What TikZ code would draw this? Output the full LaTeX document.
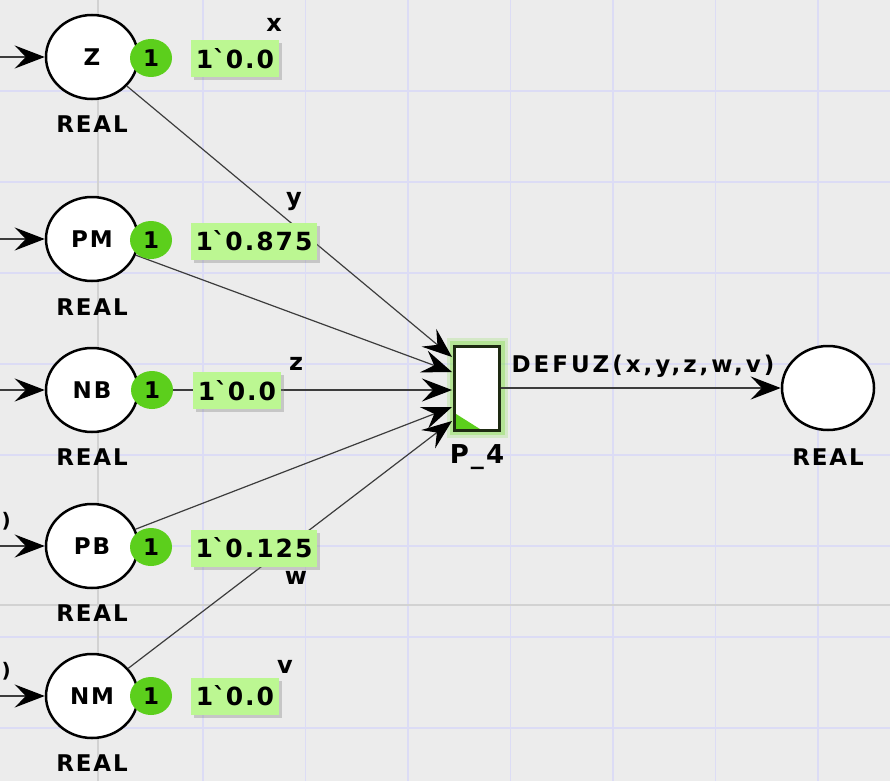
\documentclass[tikz,border=0pt]{standalone}
\usepackage{fontspec}
\setmainfont{DejaVu Sans}[LetterSpace=8]
\usetikzlibrary{shapes.geometric,arrows.meta,shadows}
\definecolor{canvas}{HTML}{ECECEC}
\definecolor{gridblue}{HTML}{DCDCF5}
\definecolor{gridgray}{HTML}{D2D2D2}
\definecolor{tokengreen}{HTML}{5CCF1C}
\definecolor{markgreen}{HTML}{BCF792}
\definecolor{glowgreen}{HTML}{8EE05A}
\definecolor{transedge}{HTML}{1E2A12}
\definecolor{arcgray}{HTML}{3C3C3C}
\newcommand{\fsz}[1]{\fontsize{#1}{#1}\selectfont\bfseries}
\newcommand{\mk}[1]{1\textasciigrave #1}
\tikzset{
	place/.style    = {draw, ellipse, line width = 2.5pt, fill = white,
		minimum width = 92pt, minimum height = 84pt, inner sep = 0pt, font = \fsz{23}},
	trans/.style    = {draw = transedge, rectangle, line width = 3pt, fill = white,
		minimum width = 45pt, minimum height = 84pt,
		preaction = {draw = glowgreen, line width = 16pt, opacity = 0.25},
		preaction = {draw = glowgreen, line width = 10pt, opacity = 0.45},
		path picture = {\fill[tokengreen] (path picture bounding box.south west)
			-- ++(0,-17) -- ++(27,17) -- cycle;}},
	token/.style    = {ellipse, fill = tokengreen, minimum width = 42pt,
		minimum height = 38pt, inner sep = 0pt, font = \fsz{23}},
	marking/.style  = {rectangle, fill = markgreen, minimum height = 37pt,
		inner xsep = 5pt, inner ysep = 0pt, font = \fsz{25},
		drop shadow = {shadow xshift = 3pt, shadow yshift = -3pt, opacity = 0.35}},
	colset/.style   = {font = \fsz{23}}, % colour set
	inscr/.style    = {font = \fsz{24}}, % arc inscription
	cpnarc/.style   = {draw = arcgray, line width = 1.2pt},
	input/.style    = {coordinate}, % arc end
	gridline/.style = {draw = gridblue, line width = 1.5pt}
}

\begin{document}
\begin{tikzpicture}[x=1pt, y=-1pt, >={Stealth[length=30pt, width=23pt, inset=11pt, color=black]}]
	\useasboundingbox (0,0) rectangle (890,781);
	\clip (0,0) rectangle (890,781);
	\fill[canvas] (0,0) rectangle (890,781);
	\foreach \gx in {203,305.5,...,830}
		\draw[gridline] (\gx,0) -- (\gx,781);
	\foreach \gy in {91,182,...,781}
		\draw[gridline] (0,\gy) -- (890,\gy);
	\draw[gridgray, line width=1.5pt] (98,0) -- (98,781) (0,605) -- (890,605);

	\draw
	node at (92,57) [place] (Z) {Z}
	node at (92,239) [place] (PM) {PM}
	node at (92,390) [place] (NB) {NB}
	node at (92,546) [place] (PB) {PB}
	node at (92,696) [place] (NM) {NM}
	node at (828,388) [place] (res) {}
	node at (477,388) [trans] (P4) {}
	node at (0,57) [input] (iZ) {}
	node at (0,239) [input] (iPM) {}
	node at (0,390) [input] (iNB) {}
	node at (0,546) [input] (iPB) {}
	node at (0,696) [input] (iNM) {}
	node at (452,357) [input] (tZ) {}
	node at (452,372) [input] (tPM) {}
	node at (452,390) [input] (tNB) {}
	node at (452,407) [input] (tPB) {}
	node at (452,421) [input] (tNM) {};

	\draw[cpnarc, ->](iZ)--(Z);
	\draw[cpnarc, ->](iPM)--(PM);
	\draw[cpnarc, ->](iNB)--(NB);
	\draw[cpnarc, ->](iPB)--(PB);
	\draw[cpnarc, ->](iNM)--(NM);
	\draw[cpnarc, ->](Z)--(tZ);
	\draw[cpnarc, ->](PM)--(tPM);
	\draw[cpnarc, ->](NB)--(tNB);
	\draw[cpnarc, ->](PB)--(tPB);
	\draw[cpnarc, ->](NM)--(tNM);
	\draw[cpnarc, line width=1.5pt, ->](P4)--(res);

	% tokens and current markings
	\draw
	node at (151,58) [token] (kZ) {1}
	node at (151,240) [token] (kPM) {1}
	node at (152,390) [token] (kNB) {1}
	node at (151,547) [token] (kPB) {1}
	node at (151,696) [token] (kNM) {1}
	node at (235,58.5) [marking] (mZ) {\mk{0.0}}
	node at (254,241) [marking] (mPM) {\mk{0.875}}
	node at (237,390.5) [marking] (mNB) {\mk{0.0}}
	node at (254,548) [marking] (mPB) {\mk{0.125}}
	node at (235,696) [marking] (mNM) {\mk{0.0}};

	\draw
	node at (92,124) [colset] (csZ) {REAL}
	node at (92,307) [colset] (csPM) {REAL}
	node at (92,457) [colset] (csNB) {REAL}
	node at (92,613) [colset] (csPB) {REAL}
	node at (92,763) [colset] (csNM) {REAL}
	node at (828,457) [colset] (csres) {REAL}
	node at (477,457) [colset, font=\fsz{26}] (nP4) {P\_4}
	node at (274,25) [inscr] (lx) {x}
	node at (294,202) [inscr] (ly) {y}
	node at (296,364) [inscr] (lz) {z}
	node at (296,578) [inscr] (lw) {w}
	node at (285,667) [inscr] (lv) {v}
	node at (643,366) [inscr, font=\fsz{23}\addfontfeatures{LetterSpace=13}] (lout) {DEFUZ(x,y,z,w,v)}
	node at (12,521) [inscr, anchor=east, inner sep=1pt, font=\fsz{20}] (rPB) {)}
	node at (12,671) [inscr, anchor=east, inner sep=1pt, font=\fsz{20}] (rNM) {)};
\end{tikzpicture}
\end{document}
